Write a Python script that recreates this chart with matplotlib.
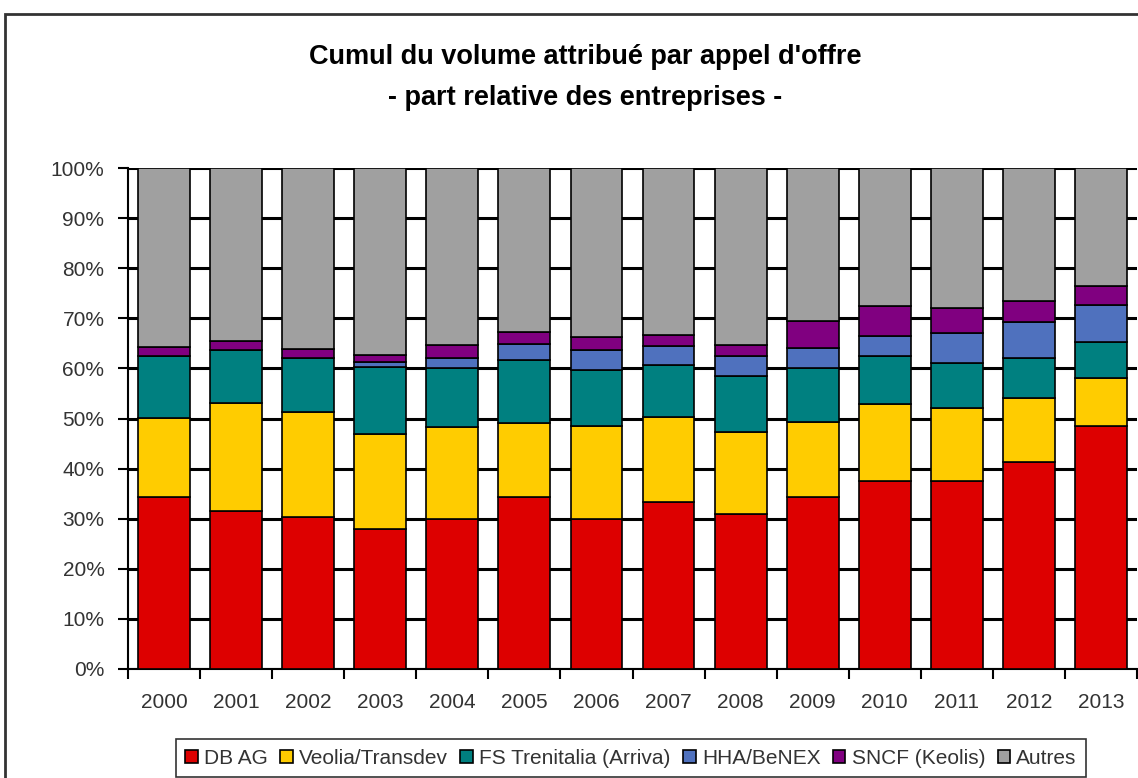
import matplotlib
matplotlib.use('Agg')
import matplotlib.pyplot as plt
import numpy as np
from matplotlib.patches import Rectangle

plt.rcParams['font.family'] = ['Liberation Sans', 'DejaVu Sans']

# données (parts en %)
years = ['2000', '2001', '2002', '2003', '2004', '2005', '2006',
         '2007', '2008', '2009', '2010', '2011', '2012', '2013']
db_ag = [34.3, 31.5, 30.3, 28.0, 29.9, 34.3, 29.9, 33.4, 31.0, 34.3, 37.5, 37.5, 41.3, 48.5]
veolia = [15.8, 21.6, 20.9, 18.9, 18.4, 14.8, 18.6, 16.9, 16.3, 15.0, 15.3, 14.5, 12.7, 9.6]
fs_trenitalia = [12.4, 10.6, 10.8, 13.3, 11.8, 12.6, 11.2, 10.3, 11.2, 10.8, 9.7, 9.0, 8.1, 7.2]
hha_benex = [0.0, 0.0, 0.0, 1.1, 2.0, 3.2, 4.0, 3.9, 4.0, 4.0, 4.0, 6.0, 7.1, 7.4]
sncf = [1.8, 1.8, 1.9, 1.4, 2.6, 2.4, 2.5, 2.2, 2.2, 5.4, 6.0, 5.0, 4.3, 3.8]
autres = [35.7, 34.5, 36.1, 37.3, 35.3, 32.7, 33.8, 33.3, 35.3, 30.5, 27.5, 28.0, 26.5, 23.5]

series = [db_ag, veolia, fs_trenitalia, hha_benex, sncf, autres]
labels = ['DB AG', 'Veolia/Transdev', 'FS Trenitalia (Arriva)', 'HHA/BeNEX',
          'SNCF (Keolis)', 'Autres']
colors = ['#DD0000', '#FFCC00', '#008080', '#4F71BE', '#800080', '#A0A0A0']

fig = plt.figure(figsize=(11.38, 7.78), dpi=100)
ax = fig.add_axes([128/1138, 1-669/778, 1009/1138, (669-168)/778])

x = np.arange(len(years))
bottom = np.zeros(len(years))
for vals, lab, col in zip(series, labels, colors):
    ax.bar(x, vals, width=0.72, bottom=bottom, color=col, edgecolor='black',
           linewidth=1.2, label=lab, zorder=3)
    bottom += np.array(vals)

ax.set_xlim(-0.5, len(years) - 0.5)
ax.set_ylim(0, 100)
ax.set_yticks(np.arange(0, 101, 10))
ax.set_yticklabels(['%d%%' % v for v in range(0, 101, 10)])
ax.yaxis.grid(True, color='black', linewidth=2.2, zorder=0)
ax.set_axisbelow(True)

ax.set_xticks(x)
ax.set_xticklabels(years)
ax.set_xticks(np.arange(-0.5, len(years), 1), minor=True)
ax.tick_params(axis='x', which='major', length=0, pad=17, labelsize=15, labelcolor='#333333')
ax.tick_params(axis='x', which='minor', length=7, width=1.5, direction='out')
ax.tick_params(axis='y', length=7, width=1.5, pad=10, labelsize=15, labelcolor='#333333')

for s in ['top', 'right']:
    ax.spines[s].set_visible(False)
for s in ['left', 'bottom']:
    ax.spines[s].set_linewidth(1.5)

fig.text(585/1138, 1-57/778, "Cumul du volume attribué par appel d'offre",
         ha='center', va='center', fontsize=19.5, fontweight='bold')
fig.text(585/1138, 1-98/778, "- part relative des entreprises -",
         ha='center', va='center', fontsize=19.5, fontweight='bold')

leg = fig.legend(loc='center', bbox_to_anchor=(631/1138, 1-758/778), ncol=6,
                 fontsize=15, handlelength=0.6, handleheight=0.6, handletextpad=0.3,
                 columnspacing=0.6, borderpad=0.45, borderaxespad=0.2,
                 fancybox=False, frameon=True)
leg.get_frame().set_edgecolor('black')
leg.get_frame().set_linewidth(1.2)
for t in leg.get_texts():
    t.set_color('#333333')

# cadre extérieur
fig.patches.append(Rectangle((5/1138, -0.1), 1.2, 1-14/778+0.1, transform=fig.transFigure,
                             fill=False, edgecolor='#333333', linewidth=2, zorder=0))

fig.savefig('out.png', dpi=100)
